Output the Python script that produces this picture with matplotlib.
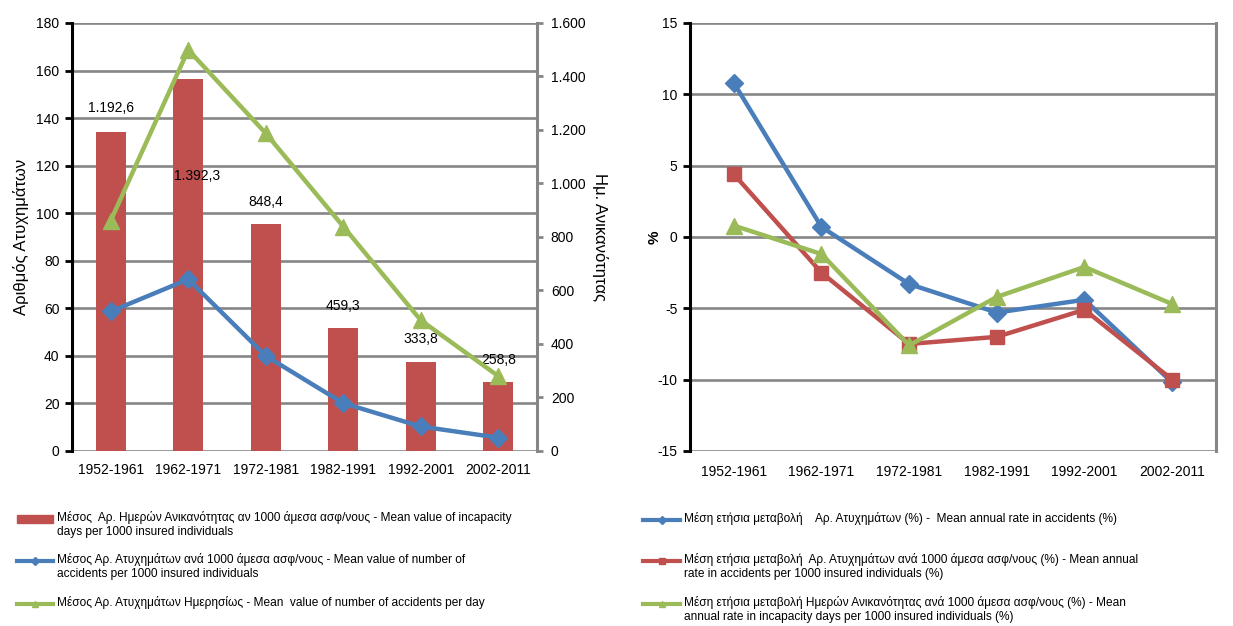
import numpy as np
import matplotlib.pyplot as plt
from matplotlib.lines import Line2D
from matplotlib.patches import Rectangle

plt.rcParams['font.family'] = ['Liberation Sans', 'DejaVu Sans']
plt.rcParams['axes.unicode_minus'] = False

periods = ['1952-1961', '1962-1971', '1972-1981', '1982-1991', '1992-2001', '2002-2011']

# left chart
incapacity_days = [1192.6, 1392.3, 848.4, 459.3, 333.8, 258.8]
accidents_per_1000 = [58.7, 72.2, 40.0, 20.1, 10.3, 5.6]
accidents_per_day = [96.9, 168.7, 133.6, 94.4, 55.0, 31.5]
bar_label_offsets = [17, -70, 16, 16, 16, 16]  # points, as placed in the original

# right chart (% mean annual change)
rate_accidents = [10.8, 0.7, -3.3, -5.3, -4.4, -10.2]
rate_acc_per_1000 = [4.4, -2.5, -7.5, -7.0, -5.1, -10.0]
rate_days_per_1000 = [0.8, -1.2, -7.6, -4.2, -2.1, -4.7]

BLUE = '#4a7ebb'
RED = '#c0504d'
GREEN = '#9bbb59'
GRID = '#868686'

fig = plt.figure(figsize=(12.33, 6.26), dpi=100)
x = np.arange(len(periods))

# ---------- left chart ----------
ax_g = fig.add_axes([0.0584, 0.2796, 0.3771, 0.6837])
ax_b = ax_g.twinx()
ax_l = ax_g.twinx()

ax_g.set_ylim(0, 180)
ax_g.set_yticks(np.arange(0, 181, 20))
ax_g.yaxis.grid(True, color=GRID, lw=1.9)
ax_g.set_axisbelow(True)
ax_g.set_xlim(-0.5, 5.5)
ax_g.set_xticks(x)
ax_g.set_xticklabels(periods, fontsize=10)
ax_g.tick_params(axis='x', length=0, pad=9)
ax_g.tick_params(axis='y', direction='out', length=5, width=2, color='black',
                 labelsize=10, pad=4)
ax_g.spines['left'].set_linewidth(2.2)
ax_g.spines['left'].set_color('black')
for s in ['top', 'right', 'bottom']:
    ax_g.spines[s].set_visible(False)
ax_g.set_ylabel('Αριθμός Ατυχημάτων', fontsize=12, labelpad=5)

ax_b.bar(x, incapacity_days, width=0.39, color=RED, zorder=2)
ax_b.set_ylim(0, 1600)
ax_b.set_yticks(np.arange(0, 1601, 200))
ax_b.set_yticklabels(['0', '200', '400', '600', '800', '1.000', '1.200', '1.400', '1.600'])
ax_b.tick_params(axis='y', direction='out', length=4, width=2, color=GRID,
                 labelsize=10, pad=6)
ax_b.spines['right'].set_color(GRID)
ax_b.spines['right'].set_linewidth(2.2)
for s in ['top', 'left', 'bottom']:
    ax_b.spines[s].set_visible(False)
ax_b.set_ylabel('Ημ. Ανικανότητας', fontsize=12, rotation=-90, labelpad=16)
for i, v in enumerate(incapacity_days):
    lab = f'{v:,.1f}'.replace(',', ' ').replace('.', ',').replace(' ', '.')
    dx = 6 if i == 1 else 0
    ax_b.annotate(lab, (x[i], v), xytext=(dx, bar_label_offsets[i]),
                  textcoords='offset points', ha='center', va='center', fontsize=10)

ax_l.set_ylim(0, 180)
ax_l.set_yticks([])
for s in ax_l.spines.values():
    s.set_visible(False)
ax_l.plot(x, accidents_per_1000, color=BLUE, lw=3.2, marker='D', ms=9)
ax_l.plot(x, accidents_per_day, color=GREEN, lw=3.2, marker='^', ms=11)

# ---------- right chart ----------
ax_r = fig.add_axes([0.5596, 0.2796, 0.4266, 0.6837])
ax_r.set_ylim(-15, 15)
ax_r.set_yticks(np.arange(-15, 16, 5))
ax_r.set_xlim(-0.5, 5.5)
ax_r.set_xticks(x)
ax_r.set_xticklabels(periods, fontsize=10)
ax_r.tick_params(axis='x', length=0, pad=10)
ax_r.tick_params(axis='y', direction='out', length=5, width=2, color='black',
                 labelsize=10, pad=4)
ax_r.yaxis.grid(True, color=GRID, lw=1.9)
ax_r.set_axisbelow(True)
ax_r.spines['left'].set_linewidth(2.2)
ax_r.spines['left'].set_color('black')
ax_r.spines['right'].set_color(GRID)
ax_r.spines['right'].set_linewidth(2.2)
for s in ['top', 'bottom']:
    ax_r.spines[s].set_visible(False)
ax_r.set_ylabel('%', fontsize=11, fontweight='bold', labelpad=-3)

ax_r.plot(x, rate_accidents, color=BLUE, lw=3.2, marker='D', ms=9)
ax_r.plot(x, rate_acc_per_1000, color=RED, lw=3.2, marker='s', ms=10)
ax_r.plot(x, rate_days_per_1000, color=GREEN, lw=3.2, marker='^', ms=11)

# ---------- legends ----------
W, H = 1233.0, 626.0
LFS = 8.6


def handle(x0, x1, y, color, marker=None, ms=4):
    fig.add_artist(Line2D([x0 / W, x1 / W], [1 - y / H, 1 - y / H],
                          color=color, lw=3, transform=fig.transFigure))
    if marker:
        fig.add_artist(Line2D([(x0 + x1) / 2 / W], [1 - y / H], color=color,
                              marker=marker, ms=ms, transform=fig.transFigure))


def label(xp, y, text):
    fig.text(xp / W, 1 - (y - 8) / H, text, fontsize=LFS, va='top', ha='left',
             linespacing=1.25)


fig.add_artist(Rectangle((17 / W, 1 - 523 / H), 36 / W, 8 / H, color=RED,
                         transform=fig.transFigure))
label(57, 519, 'Μέσος  Αρ. Ημερών Ανικανότητας αν 1000 άμεσα ασφ/νους - Mean value of incapacity\n'
               'days per 1000 insured individuals')
handle(17, 53, 561, BLUE, 'D')
label(57, 561, 'Μέσος Αρ. Ατυχημάτων ανά 1000 άμεσα ασφ/νους - Mean value of number of\n'
               'accidents per 1000 insured individuals')
handle(17, 53, 604, GREEN, '^', 5)
label(57, 604, 'Μέσος Αρ. Ατυχημάτων Ημερησίως - Mean  value of number of accidents per day')

handle(643, 680, 520, BLUE, 'D')
label(684, 520, 'Μέση ετήσια μεταβολή    Αρ. Ατυχημάτων (%) -  Mean annual rate in accidents (%)')
handle(643, 680, 561, RED, 's')
label(684, 561, 'Μέση ετήσια μεταβολή  Αρ. Ατυχημάτων ανά 1000 άμεσα ασφ/νους (%) - Mean annual\n'
                'rate in accidents per 1000 insured individuals (%)')
handle(643, 680, 604, GREEN, '^', 5)
label(684, 604, 'Μέση ετήσια μεταβολή Ημερών Ανικανότητας ανά 1000 άμεσα ασφ/νους (%) - Mean\n'
                'annual rate in incapacity days per 1000 insured individuals (%)')

fig.savefig('out.png', dpi=100)
